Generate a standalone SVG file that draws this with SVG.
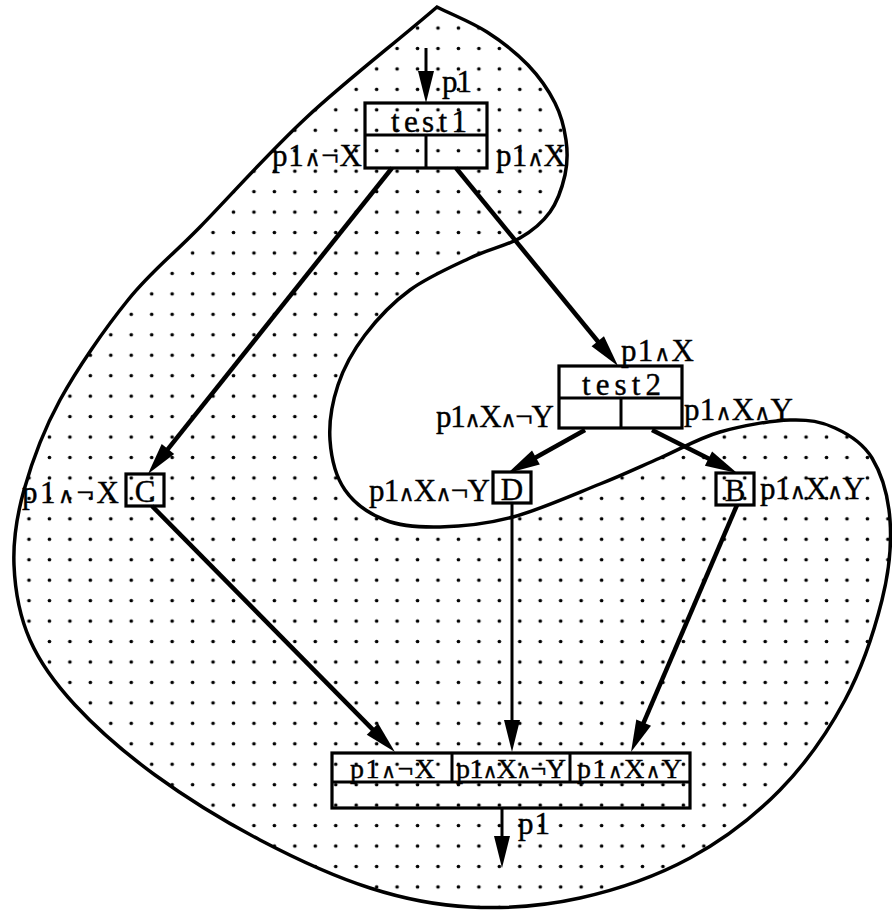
<svg xmlns="http://www.w3.org/2000/svg" width="892" height="913" viewBox="0 0 892 913">
<style>
  text { font-family: "Liberation Serif", "DejaVu Serif", serif; font-size: 31px; fill: #000; stroke: #000; stroke-width: 0.4; }
  .w { font-size: 22px; }
  .s { font-size: 28px; }
  .s .w { font-size: 20px; }
  .box { fill: none; stroke: #000; stroke-width: 3.2; }
  .div { stroke: #000; stroke-width: 3; fill: none; }
  .thick { stroke: #000; stroke-width: 4.5; fill: none; marker-end: url(#ah); }
  .thin { stroke: #000; stroke-width: 3; fill: none; marker-end: url(#ah); }
  .c { text-anchor: middle; }
</style>
<defs>
  <pattern id="dots" patternUnits="userSpaceOnUse" x="-1.675" y="-2.675" width="20.45" height="20.45">
    <circle cx="10.225" cy="10.225" r="1.8" fill="#000"/>
  </pattern>
  <marker id="ah" markerUnits="userSpaceOnUse" viewBox="-34 -9 36 18" markerWidth="36" markerHeight="18" refX="-22" refY="0" orient="auto">
    <path d="M0,0 L-32,-8 L-32,8 Z" fill="#000"/>
  </marker>
</defs>
<rect width="892" height="913" fill="#fff"/>
<g id="region">
  <path fill="url(#dots)" stroke="#000" stroke-width="3.5" stroke-linejoin="miter" d="M437,7 C394,44 346.5,80.3 307,117 S229.8,196.5 200,227 S151.3,271.2 128,300 S77.3,368.3 60,400 S31.7,462.5 24,490 S13,540 14,565 S19.8,616.7 30,640 S54.2,682.5 75,705 S124.2,752.5 155,775 S224.2,821.2 260,840 S335,876.8 370,888 S435,905.3 470,907 S543.3,906.2 580,898 S656.7,876 690,858 S754.2,816.3 780,790 S828,731.7 845,700 S874.5,630 882,600 S891.7,543.7 890,520 S881.2,473.3 872,458 S848.7,434.3 835,428 S809.2,419.3 790,420 S741.7,425.7 720,432 S680,449.3 660,458 S624.5,474.2 600,484 S539.7,509.8 513,517 S461.3,526.5 440,527 S400.8,526.2 385,520 S354.2,503.3 345,490 S331.2,457.5 330,440 S332.2,402.5 338,385 S353,350.8 365,335 S392.5,302.8 410,290 S451.7,266.7 470,258 S506.7,245.7 520,238 S542.5,222.5 550,212 S562.3,187 565,175 S567.7,152 566,140 S561.3,115.5 555,103 S539.3,76.8 528,65 S502.2,41.7 487,32 S455,16 437,7 Z"/>
</g>
<g id="connectors">
  <line class="thin" x1="426" y1="48" x2="426" y2="81"/>
  <line class="thick" x1="392" y1="168" x2="161.7" y2="456.8"/>
  <line class="thick" x1="456" y1="168" x2="604.1" y2="349"/>
  <line class="thick" x1="585" y1="430" x2="527.2" y2="462.3"/>
  <line class="thick" x1="652" y1="430" x2="717.4" y2="463.1"/>
  <line class="thick" x1="152" y1="506" x2="379.5" y2="736.3"/>
  <line class="thin" x1="512" y1="503" x2="512" y2="730"/>
  <line class="thick" x1="737" y1="505" x2="639.7" y2="731.8"/>
  <line class="thin" x1="502" y1="808" x2="502" y2="846"/>
</g>
<g id="labels-edges">
  <text x="442" y="92" textLength="30" lengthAdjust="spacing">p1</text>
  <text x="621" y="361" textLength="73" lengthAdjust="spacing">p1<tspan class="w">∧</tspan>X</text>
  <text x="518" y="834" textLength="32" lengthAdjust="spacing">p1</text>
</g>
<g id="test1">
  <rect class="box" x="365" y="103" width="122" height="65"/>
  <line class="div" x1="365" y1="135" x2="487" y2="135"/>
  <line class="div" x1="426" y1="135" x2="426" y2="168"/>
  <text x="391" y="132" textLength="76" lengthAdjust="spacing">test1</text>
  <text x="272" y="166" textLength="90" lengthAdjust="spacing">p1<tspan class="w">∧</tspan>¬X</text>
  <text x="496" y="166" textLength="70" lengthAdjust="spacing">p1<tspan class="w">∧</tspan>X</text>
</g>
<g id="test2">
  <rect class="box" x="559" y="366" width="123" height="62"/>
  <line class="div" x1="559" y1="398" x2="682" y2="398"/>
  <line class="div" x1="621" y1="398" x2="621" y2="428"/>
  <text x="582" y="395" textLength="79" lengthAdjust="spacing">test2</text>
  <text x="436" y="427" textLength="118" lengthAdjust="spacing">p1<tspan class="w">∧</tspan>X<tspan class="w">∧</tspan>¬Y</text>
  <text x="684" y="420" textLength="109" lengthAdjust="spacing">p1<tspan class="w">∧</tspan>X<tspan class="w">∧</tspan>Y</text>
</g>
<g id="C">
  <rect class="box" x="126" y="474" width="38" height="32"/>
  <text class="c" x="145" y="502">C</text>
  <text x="22" y="503" textLength="97" lengthAdjust="spacing">p1<tspan class="w">∧</tspan>¬X</text>
</g>
<g id="D">
  <rect class="box" x="493" y="472" width="38" height="31"/>
  <text class="c" x="512" y="500">D</text>
  <text x="369" y="501" textLength="121" lengthAdjust="spacing">p1<tspan class="w">∧</tspan>X<tspan class="w">∧</tspan>¬Y</text>
</g>
<g id="B">
  <rect class="box" x="716" y="473" width="38" height="32"/>
  <text class="c" x="735" y="501">B</text>
  <text x="760" y="499" textLength="105" lengthAdjust="spacing">p1<tspan class="w">∧</tspan>X<tspan class="w">∧</tspan>Y</text>
</g>
<g id="join">
  <rect class="box" x="332" y="753" width="358" height="55"/>
  <line class="div" x1="332" y1="782" x2="690" y2="782"/>
  <line class="div" x1="452" y1="753" x2="452" y2="782"/>
  <line class="div" x1="570" y1="753" x2="570" y2="782"/>
  <text class="s" x="350" y="778" textLength="85" lengthAdjust="spacing">p1<tspan class="w">∧</tspan>¬X</text>
  <text class="s" x="456" y="778" textLength="110" lengthAdjust="spacing">p1<tspan class="w">∧</tspan>X<tspan class="w">∧</tspan>¬Y</text>
  <text class="s" x="577" y="778" textLength="105" lengthAdjust="spacing">p1<tspan class="w">∧</tspan>X<tspan class="w">∧</tspan>Y</text>
</g>
</svg>
